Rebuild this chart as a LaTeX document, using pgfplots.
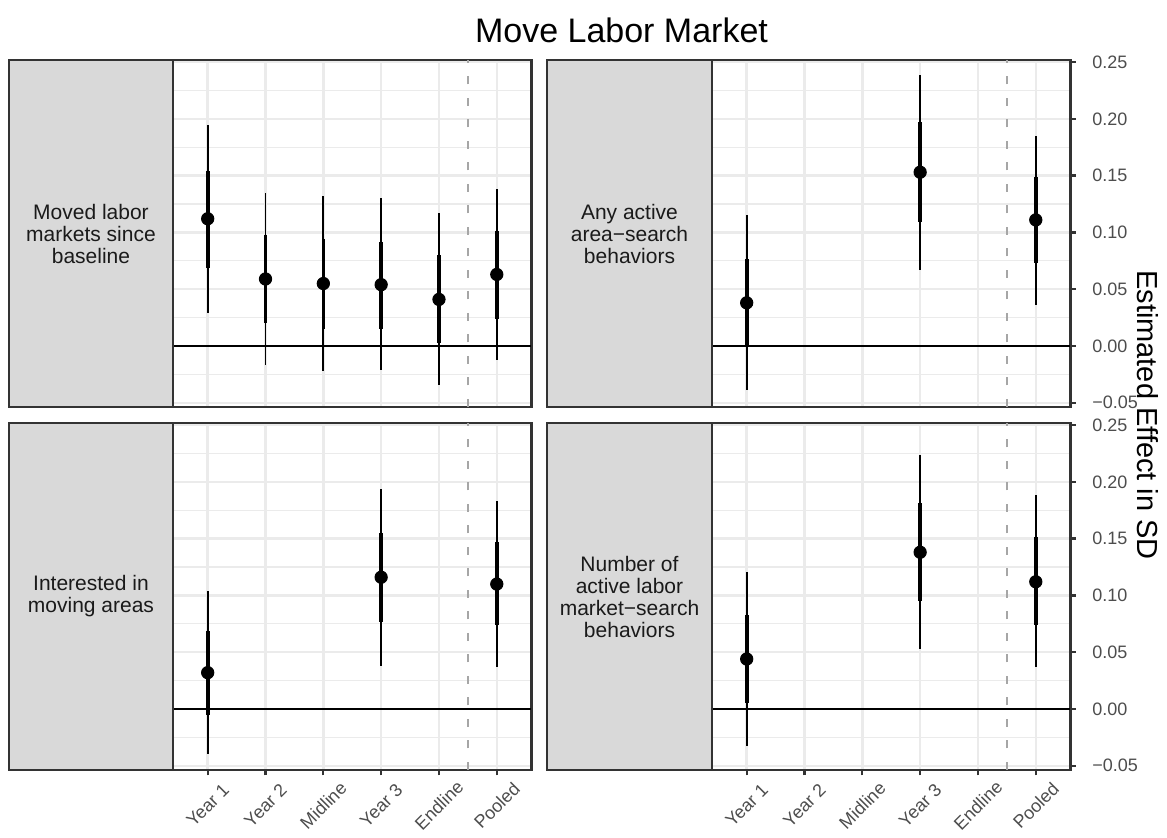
\documentclass[border=0pt]{standalone}
\usepackage{fontspec}
\setmainfont{Liberation Sans}
\usepackage{pgfplots}
\pgfplotsset{compat=1.18}
\usepackage{pgfplotstable}

\definecolor{g10}{HTML}{1A1A1A}
\definecolor{g20}{HTML}{333333}
\definecolor{g30}{HTML}{4D4D4D}
\definecolor{g85}{HTML}{D9D9D9}
\definecolor{g92}{HTML}{EBEBEB}
\definecolor{gdash}{HTML}{A6A6A6}

% Moved labor markets since baseline
\pgfplotstableread{
x y lo90 hi90 lo95 hi95
1 0.112 0.069 0.154 0.029 0.195
2 0.059 0.020 0.098 -0.017 0.135
3 0.055 0.015 0.094 -0.022 0.132
4 0.054 0.015 0.092 -0.021 0.130
5 0.041 0.003 0.080 -0.034 0.117
6 0.063 0.024 0.101 -0.012 0.138
}\dataA
% Any active area-search behaviors
\pgfplotstableread{
x y lo90 hi90 lo95 hi95
1 0.038 -0.001 0.077 -0.039 0.115
4 0.153 0.109 0.197 0.067 0.239
6 0.111 0.073 0.149 0.036 0.185
}\dataB
% Interested in moving areas
\pgfplotstableread{
x y lo90 hi90 lo95 hi95
1 0.032 -0.005 0.069 -0.040 0.104
4 0.116 0.077 0.155 0.038 0.194
6 0.110 0.074 0.147 0.037 0.183
}\dataC
% Number of active labor market-search behaviors
\pgfplotstableread{
x y lo90 hi90 lo95 hi95
1 0.044 0.005 0.083 -0.033 0.121
4 0.138 0.095 0.181 0.053 0.224
6 0.112 0.074 0.151 0.037 0.188
}\dataD

\pgfplotsset{
  panel/.style={
    scale only axis, width=143.4pt, height=138.8pt,
    anchor=south west,
    xmin=0.4, xmax=6.6, ymin=-0.0537, ymax=0.2518,
    xtick={1,2,3,4,5,6},
    ytick={-0.05,0,0.05,0.1,0.15,0.2,0.25},
    minor ytick={-0.025,0.025,0.075,0.125,0.175,0.225},
    xmajorgrids, ymajorgrids, yminorgrids,
    major grid style={draw=g92, line width=1pt},
    minor grid style={draw=g92, line width=0.55pt},
    axis line style={draw=g20, line width=1pt},
    tick align=outside,
    major tick length=2.2pt,
    minor tick length=0pt,
    tick style={draw=g20, line width=0.9pt},
    tick label style={font=\fontsize{7.2}{8.6}\selectfont, text=g30},
    xtick pos=bottom,
  },
  toprow/.style={xmajorticks=false},
  bottomrow/.style={
    xticklabels={Year 1,Year 2,Midline,Year 3,Endline,Pooled},
    xticklabel style={yshift=-12pt, rotate=45, anchor=center},
  },
  leftcol/.style={ymajorticks=false, yminorticks=false},
  rightcol/.style={
    ytick pos=right, yticklabel pos=right,
    yticklabels={−0.05,0.00,0.05,0.10,0.15,0.20,0.25},
    yticklabel style={xshift=3pt},
  },
  refl/.style={draw=gdash, line width=1.1pt, dash pattern=on 3.3pt off 5.3pt},
  zerol/.style={black, line width=1.1pt},
  ci95/.style={only marks, mark=none, error bars/.cd, y dir=both, y explicit,
    error mark=none, error bar style={draw=black, line width=0.75pt, solid}},
  ci90/.style={only marks, mark=none, error bars/.cd, y dir=both, y explicit,
    error mark=none, error bar style={draw=black, line width=1.45pt, solid}},
  est/.style={only marks, mark=*, mark size=2.45pt, black},
}

\newcommand{\panelplots}[1]{%
  \addplot[refl] coordinates {(5.5,-0.0537) (5.5,0.2518)};
  \addplot[zerol] coordinates {(0.4,0) (6.6,0)};
  \addplot[ci95] table[x=x, y=y,
    y error plus expr=\thisrow{hi95}-\thisrow{y},
    y error minus expr=\thisrow{y}-\thisrow{lo95}] {#1};
  \addplot[ci90] table[x=x, y=y,
    y error plus expr=\thisrow{hi90}-\thisrow{y},
    y error minus expr=\thisrow{y}-\thisrow{lo90}] {#1};
  \addplot[est] table[x=x, y=y] {#1};
}

\begin{document}
\begin{tikzpicture}
\useasboundingbox (0,0) rectangle (466.8pt,335.2pt);

\begin{axis}[panel, toprow, leftcol, at={(69.2pt,172.4pt)}]
\panelplots{\dataA}
\end{axis}
\begin{axis}[panel, toprow, rightcol, at={(284.8pt,172.4pt)}]
\panelplots{\dataB}
\end{axis}
\begin{axis}[panel, bottomrow, leftcol, at={(69.2pt,27.2pt)}]
\panelplots{\dataC}
\end{axis}
\begin{axis}[panel, bottomrow, rightcol, at={(284.8pt,27.2pt)}]
\panelplots{\dataD}
\end{axis}

% strips
\tikzset{strip/.style={fill=g85, draw=g20, line width=1pt},
  striptext/.style={align=center, text=g10, font=\fontsize{8.4}{8.8}\selectfont, inner sep=0pt}}
\draw[strip] (3.6pt,172.4pt) rectangle (69.2pt,311.2pt);
\draw[strip] (218.8pt,172.4pt) rectangle (284.8pt,311.2pt);
\draw[strip] (3.6pt,27.2pt) rectangle (69.2pt,166pt);
\draw[strip] (218.8pt,27.2pt) rectangle (284.8pt,166pt);
\node[striptext] at (36.4pt,241.8pt) {Moved labor\\markets since\\baseline};
\node[striptext] at (251.8pt,241.8pt) {Any active\\area−search\\behaviors};
\node[striptext] at (36.4pt,96.6pt) {Interested in\\moving areas};
\node[striptext] at (251.8pt,96.6pt) {Number of\\active labor\\market−search\\behaviors};

% title and axis title
\node[font=\fontsize{13.6}{15.5}\selectfont, text=black] at (248.6pt,323.2pt) {Move Labor Market};
\node[rotate=-90, font=\fontsize{11.6}{13}\selectfont, text=black] at (459.2pt,169.2pt) {Estimated Effect in SD};
\end{tikzpicture}
\end{document}
